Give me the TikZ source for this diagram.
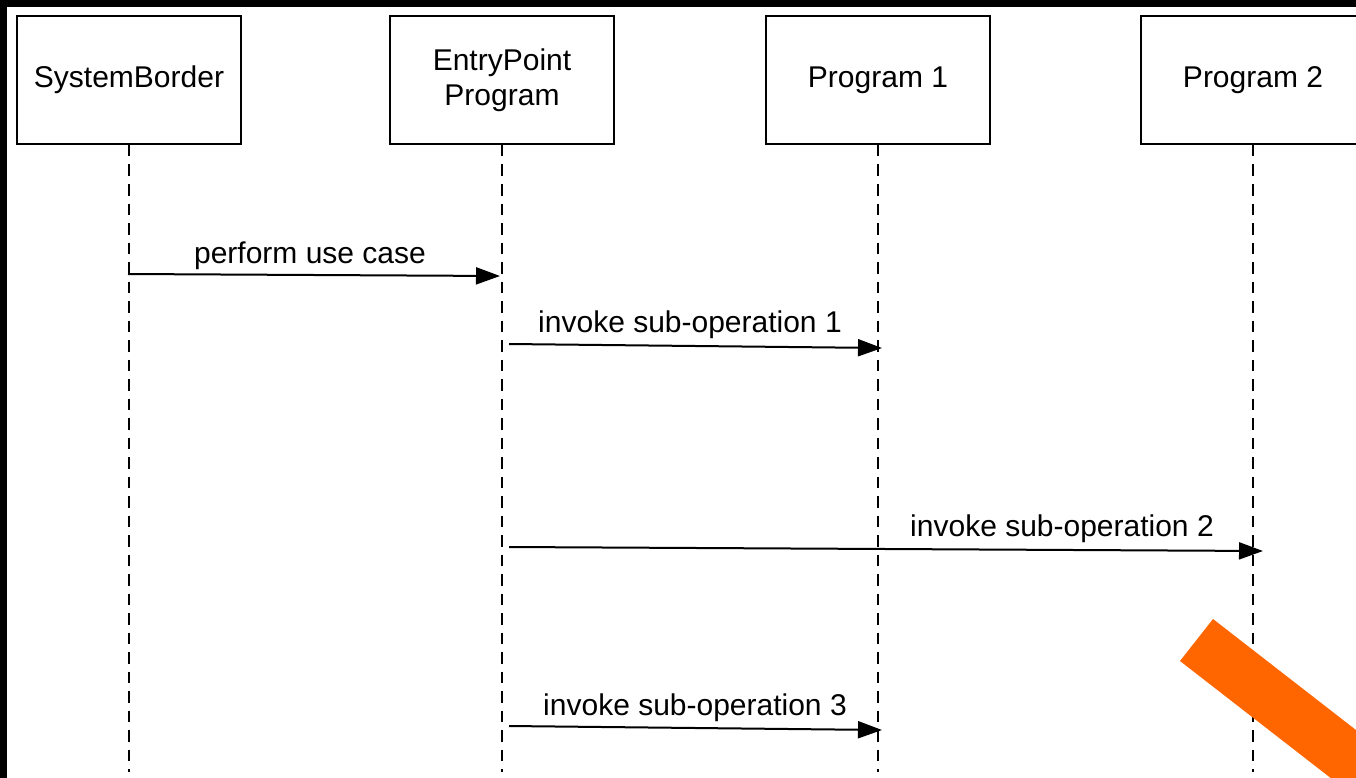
\documentclass[tikz,border=0pt]{standalone}
\usepackage{fontspec}
\setmainfont{Liberation Sans}
\usetikzlibrary{arrows.meta}
\definecolor{barorange}{RGB}{255,102,0}
\begin{document}
\begin{tikzpicture}[x=1pt,y=-1pt,
  actor/.style={draw, line width=2pt, minimum width=224pt, minimum height=128pt,
    font=\fontsize{30}{35}\selectfont, align=center, inner sep=0pt},
  life/.style={line width=2pt, dash pattern=on 11.5pt off 8pt},
  msg/.style={line width=2pt, -{Triangle[length=24pt,width=17pt]}},
  lbl/.style={font=\fontsize{30}{35}\selectfont, anchor=base, inner sep=0pt}]
\fill[black] (0,0) rectangle (1356,778);
\fill[white] (7,7) rectangle (1356,778);
\useasboundingbox (0,0) rectangle (1356,778);
% participants
\node[actor] (sb) at (129,80) {SystemBorder};
\node[actor] (ep) at (502,80) {EntryPoint\\Program};
\node[actor] (p1) at (878,80) {Program 1};
\node[actor] (p2) at (1253,80) {Program 2};
% lifelines
\coordinate (sbe) at (sb.south |- 0,772);
\coordinate (epe) at (ep.south |- 0,772);
\coordinate (p1e) at (p1.south |- 0,772);
\coordinate (p2e) at (p2.south |- 0,772);
\draw[life] (sb.south) -- (sbe);
\draw[life] (ep.south) -- (epe);
\draw[life] (p1.south) -- (p1e);
\draw[life] (p2.south) -- (p2e);
% messages
\coordinate (m1s) at (128,274);  \coordinate (m1e) at (500,276);
\coordinate (m2s) at (509,344);  \coordinate (m2e) at (882,348);
\coordinate (m3s) at (509,547);  \coordinate (m3e) at (1263,551);
\coordinate (m4s) at (509,726);  \coordinate (m4e) at (882,730);
\draw[msg] (m1s) -- (m1e);
\draw[msg] (m2s) -- (m2e);
\draw[msg] (m3s) -- (m3e);
\draw[msg] (m4s) -- (m4e);
\node[lbl] (l1) at (310,263) {perform use case};
\node[lbl] (l2) at (690,332) {invoke sub-operation 1};
\node[lbl] (l3) at (1062,536) {invoke sub-operation 2};
\node[lbl] (l4) at (695,715) {invoke sub-operation 3};
% orange bar
\begin{scope}
\clip (0,0) rectangle (1356,778);
\fill[barorange] (1213,619) -- (1180,661) -- (1417,845) -- (1450,803) -- cycle;
\end{scope}
\end{tikzpicture}
\end{document}
